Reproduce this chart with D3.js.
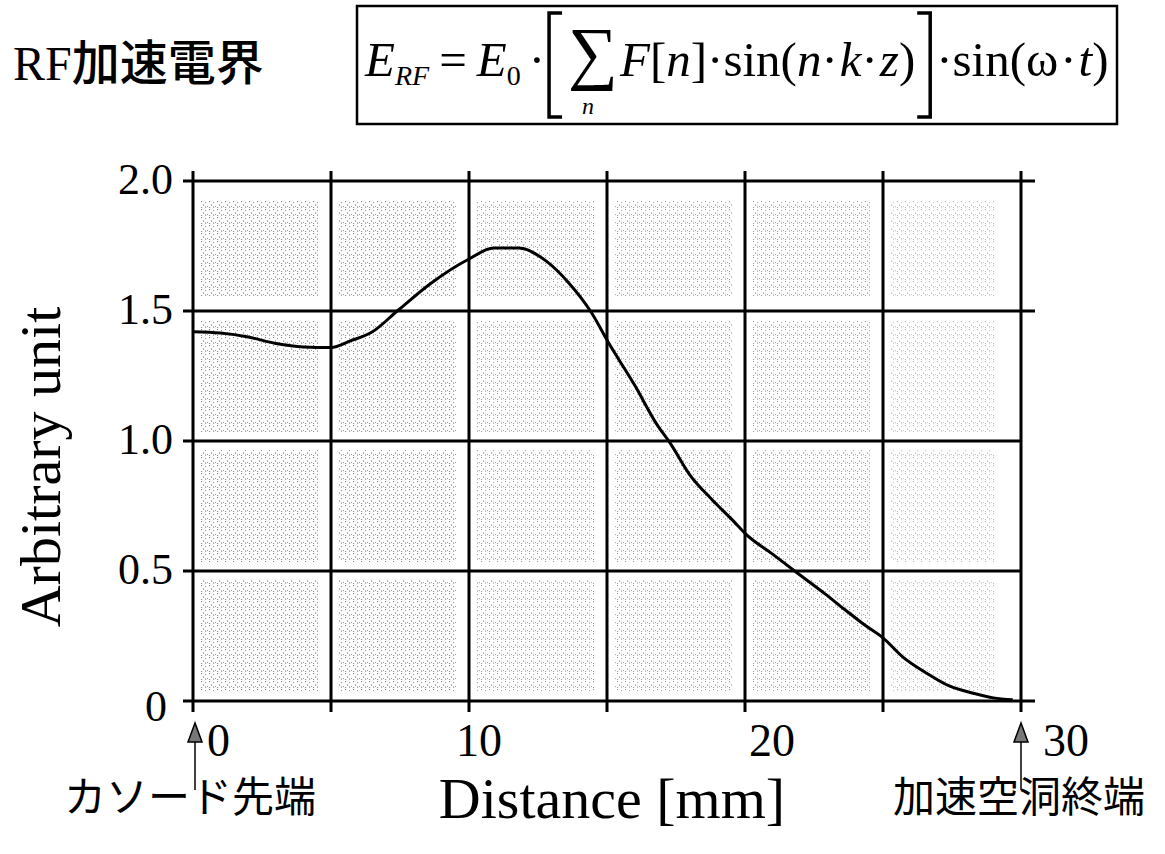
<!DOCTYPE html>
<html><head><meta charset="utf-8">
<script src="https://cdn.jsdelivr.net/npm/d3@7/dist/d3.min.js"></script>
<style>html,body{margin:0;padding:0;background:#fff;}svg{display:block;}</style>
</head><body>
<svg id="c" width="1165" height="854"></svg>
<script>
// ---- data ----
const distance = [0,1,2,3,4,5,5.7,6.5,7.4,8.6,10.0,10.9,11.8,12.8,13.6,14.4,15.1,16.0,16.8,17.3,18.0,18.8,19.6,20.0,21.0,21.8,22.9,23.6,24.3,25.0,25.7,26.6,27.4,28.3,29.0,29.7];
const fieldValue = [1.42,1.415,1.40,1.375,1.362,1.36,1.385,1.42,1.50,1.605,1.70,1.742,1.742,1.692,1.61,1.50,1.37,1.215,1.065,0.99,0.87,0.775,0.69,0.645,0.565,0.50,0.412,0.353,0.295,0.243,0.171,0.106,0.058,0.029,0.012,0.005];
const xGrid = [0,5,10,15,20,25,30];
const yGrid = [0,0.5,1.0,1.5,2.0];
const xTickLabels = ["0","10","20","30"];
const xTickValues = [0,10,20,30];
const yTickLabels = ["0","0.5","1.0","1.5","2.0"];
const yLabel = "Arbitrary unit";
const xLabel = "Distance [mm]";
const leftNote = "カソード先端";
const rightNote = "加速空洞終端";
const titleText = ["RF","加速電界"];

const svg = d3.select("#c");
const x = d3.scaleLinear().domain([0,30]).range([193,1021]);
const y = d3.scaleLinear().domain([0,2]).range([701,181]);
const serif = "'Liberation Serif','Times New Roman',serif";
const cjk = "'Noto Sans CJK JP','Noto Sans CJK SC',sans-serif";

// stipple pattern
const defs = svg.append("defs");
const pat = defs.append("pattern").attr("id","stip").attr("width",8).attr("height",8).attr("patternUnits","userSpaceOnUse");
[[1,1,"#777"],[5,2,"#999"],[3,4.5,"#666"],[7,6,"#999"],[1,7,"#888"],[5,6.5,"#777"]].forEach(p=>pat.append("rect").attr("x",p[0]).attr("y",p[1]).attr("width",1.1).attr("height",1.1).attr("fill",p[2]));

// stippled cells
const g = svg.append("g");
for (let i=0;i<xGrid.length-1;i++){
  for (let j=0;j<yGrid.length-1;j++){
    const x0=x(xGrid[i]), x1=x(xGrid[i+1]), y0=y(yGrid[j+1]), y1=y(yGrid[j]);
    g.append("rect").attr("x",x0+7).attr("y",y0+(j==3?20:9)).attr("width",x1-x0-(i==5?34:20)).attr("height",y1-y0-(j==3?35:18))
      .attr("fill","url(#stip)").attr("opacity", i<2?0.95:(i==5?0.55:0.8));
  }
}

// grid
svg.append("g").selectAll("line").data(xGrid).join("line")
  .attr("x1",d=>x(d)).attr("x2",d=>x(d)).attr("y1",y(2)-10).attr("y2",y(0)+11)
  .attr("stroke","#000").attr("stroke-width",3);
svg.append("g").selectAll("line").data(yGrid).join("line")
  .attr("x1",x(0)-10).attr("x2",d=>x(30)+(d==0||d==1.5||d==2?14:0)).attr("y1",d=>y(d)).attr("y2",d=>y(d))
  .attr("stroke","#000").attr("stroke-width",3);

// curve
const line = d3.line().x((d,i)=>x(distance[i])).y(d=>y(d)).curve(d3.curveMonotoneX);
svg.append("path").attr("d",line(fieldValue)).attr("fill","none").attr("stroke","#000").attr("stroke-width",3);

// y tick labels
svg.append("g").selectAll("text").data(yGrid).join("text")
  .attr("x",(d,i)=>i==0?167:173).attr("y",(d,i)=>y(d)+(i==0?20:13)).attr("text-anchor","end")
  .attr("font-family",serif).attr("font-size",44).text((d,i)=>yTickLabels[i]);

// x tick labels
const xOff = [{dx:14,a:"start"},{dx:10,a:"middle"},{dx:27,a:"middle"},{dx:22,a:"start"}];
svg.append("g").selectAll("text").data(xTickValues).join("text")
  .attr("x",(d,i)=>x(d)+xOff[i].dx).attr("y",756).attr("text-anchor",(d,i)=>xOff[i].a)
  .attr("font-family",serif).attr("font-size",46).text((d,i)=>xTickLabels[i]);

// axis titles
svg.append("text").attr("transform","translate(60,467) rotate(-90)").attr("text-anchor","middle")
  .attr("font-family",serif).attr("font-size",58).text(yLabel);
svg.append("text").attr("x",612).attr("y",818).attr("text-anchor","middle")
  .attr("font-family",serif).attr("font-size",58).text(xLabel);

// arrows
[x(0)+2, x(30)].forEach(ax=>{
  svg.append("line").attr("x1",ax).attr("x2",ax).attr("y1",740).attr("y2",790).attr("stroke","#000").attr("stroke-width",1.5);
  svg.append("path").attr("d",`M${ax},723 L${ax-7},742 L${ax+7},742 Z`).attr("fill","#777").attr("stroke","#000").attr("stroke-width",1.5);
});
svg.append("text").attr("x",64).attr("y",812).attr("font-family",cjk).attr("font-size",42).text(leftNote);
svg.append("text").attr("x",893).attr("y",812).attr("font-family",cjk).attr("font-size",42).text(rightNote);

// title
const t = svg.append("text").attr("x",13).attr("y",80).attr("font-size",48);
t.append("tspan").attr("font-family",serif).text(titleText[0]);
t.append("tspan").attr("font-family",cjk).attr("font-weight",500).text(titleText[1]);

// formula box
const bx0=357, bx1=1117, by0=6, by1=124;
svg.append("rect").attr("x",bx0).attr("y",by0).attr("width",bx1-bx0).attr("height",by1-by0).attr("fill","none").attr("stroke","#000").attr("stroke-width",2.5);
const fs=49, base=76;
let cx = 365;
function piece(s,opt={}){
  const el = svg.append("text").attr("x",cx).attr("y",base+(opt.dy||0)).attr("font-family",serif)
    .attr("font-size",opt.size||fs).attr("font-style",opt.it?"italic":"normal").text(s);
  cx += el.node().getComputedTextLength() + (opt.gap||0);
  return el;
}
function bracket(dir){
  const w=13;
  const x0 = dir<0 ? cx+w : cx, x1 = dir<0 ? cx : cx+w;
  svg.append("path").attr("d",`M${x0},13 L${x1},13 L${x1},117 L${x0},117`).attr("fill","none").attr("stroke","#000").attr("stroke-width",3.5);
  cx += w + 6;
}
piece("E",{it:1});
piece("RF",{it:1,size:28,dy:9,gap:10});
piece("=",{gap:10});
piece("E",{it:1});
piece("0",{size:28,dy:9,gap:8});
piece("·",{gap:4});
bracket(-1);
const sx = cx;
piece("∑",{size:70,dy:0,gap:2});
svg.append("text").attr("x",sx+14).attr("y",114).attr("font-family",serif).attr("font-style","italic").attr("font-size",24).text("n");
piece("F",{it:1});
piece("[");
piece("n",{it:1});
piece("]");
piece("·sin(");
piece("n",{it:1});
piece("·",{gap:2});
piece("k",{it:1});
piece("·",{gap:2});
piece("z",{it:1});
piece(")",{gap:2});
bracket(1);
piece("·sin(ω",{gap:2});
piece("·",{gap:2});
piece("t",{it:1});
piece(")");
</script>
</body></html>
